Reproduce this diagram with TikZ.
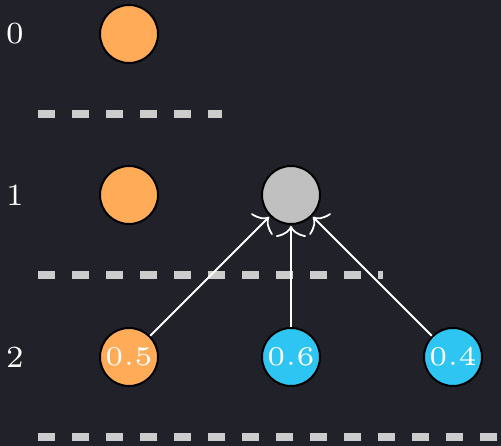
\documentclass[tikz,border=0pt]{standalone}
\usetikzlibrary{arrows.meta}
\definecolor{bg}{HTML}{212229}
\definecolor{orangec}{HTML}{FFAB57}
\definecolor{bluec}{HTML}{2EC5F2}
\definecolor{grayc}{HTML}{C0C0C0}
\definecolor{dashc}{HTML}{CCCCCC}
\tikzset{
  nd/.style={circle, draw=black, line width=2pt, minimum size=58pt, inner sep=0pt, text=white},
  ornd/.style={nd, fill=orangec},
  blnd/.style={nd, fill=bluec},
  grnd/.style={nd, fill=grayc},
  lvl/.style={text=white, inner sep=0pt},
  sep/.style={draw=dashc, line width=8.5pt, dash pattern=on 17pt off 17pt},
  arr/.style={draw=white, line width=1.8pt, -{To[length=11pt,width=30pt]}, shorten >=1pt}
}
\newcommand{\ntxt}[1]{\scalebox{5.4}{\tiny #1}}
\newcommand{\ltxt}[1]{\scalebox{4.4}{\scriptsize #1}}
\begin{document}
\begin{tikzpicture}[x=1pt,y=-1pt]
\fill[bg] (0,0) rectangle (501,446);
\useasboundingbox (0,0) rectangle (501,446);
\node[lvl] (l0) at (15,34) {\ltxt{0}};
\node[lvl] (l1) at (15,195) {\ltxt{1}};
\node[lvl] (l2) at (15,357) {\ltxt{2}};
\node[ornd] (a0) at (129,34) {};
\node[ornd] (a1) at (129,195) {};
\node[grnd] (g1) at (291,195) {};
\node[ornd] (a2) at (129,357) {\ntxt{0.5}};
\node[blnd] (b2) at (291,357) {\ntxt{0.6}};
\node[blnd] (c2) at (453,357) {\ntxt{0.4}};
\coordinate (s0a) at (38,114); \coordinate (s0b) at (222,114);
\coordinate (s1a) at (38,275); \coordinate (s1b) at (383,275);
\coordinate (s2a) at (38,437); \coordinate (s2b) at (501,437);
\draw[sep] (s0a) -- (s0b);
\draw[sep] (s1a) -- (s1b);
\draw[sep] (s2a) -- (s2b);
\draw[arr] (a2) -- (g1);
\draw[arr] (b2) -- (g1);
\draw[arr] (c2) -- (g1);
\end{tikzpicture}
\end{document}
